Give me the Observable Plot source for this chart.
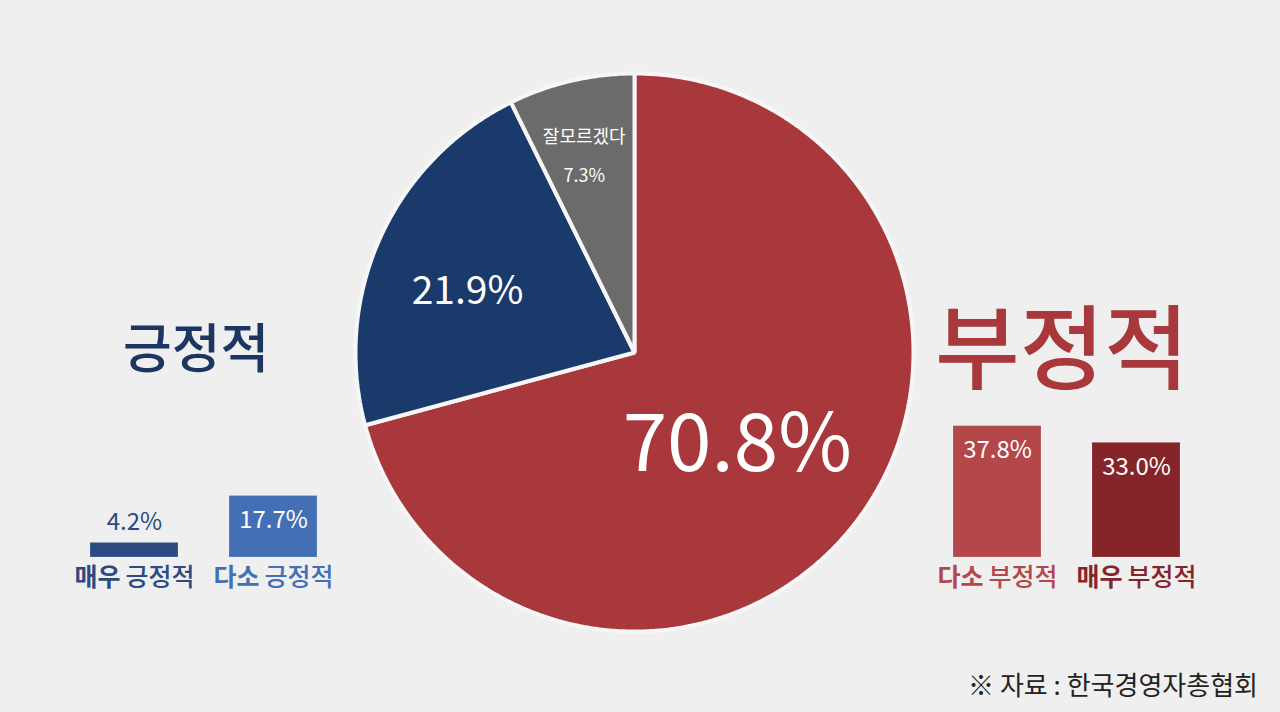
<!DOCTYPE html>
<html><head><meta charset="utf-8">
<script src="https://cdn.jsdelivr.net/npm/d3@7"></script>
<script src="https://cdn.jsdelivr.net/npm/@observablehq/plot@0.6"></script>
<style>
html,body{margin:0;padding:0;background:#efefef;}
body{width:1280px;height:712px;position:relative;overflow:hidden;font-family:"Noto Sans CJK KR","Noto Sans",sans-serif;}
.abs{position:absolute;}
.abs svg{overflow:visible;}
#tpos{left:123px;top:319px;font-size:53px;font-weight:500;color:#1d3561;line-height:1;}
#tneg{left:935px;top:296px;font-size:92px;font-weight:500;color:#a8383c;line-height:1;}
#src{right:22px;top:668px;font-size:26px;color:#222;line-height:1.2;}
</style></head><body>
<div id="pie" class="abs" style="left:344px;top:62px"></div>
<div id="pos" class="abs" style="left:64px;top:418px"></div>
<div id="neg" class="abs" style="left:927px;top:418px"></div>
<div id="tpos" class="abs">긍정적</div>
<div id="tneg" class="abs">부정적</div>
<div id="src" class="abs">※ 자료 : 한국경영자총협회</div>
<script>
// ---- data ----
const pieCategories = ["부정적", "긍정적", "잘모르겠다"];
const pieValues = [70.8, 21.9, 7.3];
const pieLabels = ["70.8%", "21.9%", "잘모르겠다\n7.3%"];
const positiveCategories = ["매우 긍정적", "다소 긍정적"];
const positiveValues = [4.2, 17.7];
const negativeCategories = ["다소 부정적", "매우 부정적"];
const negativeValues = [37.8, 33.0];

// ---- styles ----
const pieColors = ["#a8383c", "#1a3a6b", "#6b6b6b"];
const pieLabelStyle = [
  {r: 0.5, size: 80, weight: 400, dx: -8, dy: 8},
  {r: 0.637, size: 39, weight: 400, dx: -5, dy: 12},
  {r: 0.745, size: 18, weight: 400, dx: -3, dy: 0, lineHeight: 2.17}
];
const posColors = ["#2c4a80", "#4370b4"];
const negColors = ["#b3474a", "#862529"];

// ---- pie ----
const total = d3.sum(pieValues);
let cum = 0;
const slices = pieCategories.map((c, i) => {
  const a0 = cum / total * 2 * Math.PI;
  cum += pieValues[i];
  const a1 = cum / total * 2 * Math.PI;
  const n = Math.max(2, Math.ceil((a1 - a0) / (Math.PI / 360)));
  const pts = [{x: 0, y: 0}];
  for (let k = 0; k <= n; k++) {
    const a = a0 + (a1 - a0) * k / n;
    pts.push({x: Math.sin(a), y: Math.cos(a)});
  }
  const am = (a0 + a1) / 2;
  const st = pieLabelStyle[i];
  return {cat: c, pts, label: {x: Math.sin(am) * st.r, y: Math.cos(am) * st.r, text: pieLabels[i]}, color: pieColors[i], st};
});
const D = 290 / 279;
const pie = Plot.plot({
  width: 580, height: 580, margin: 0,
  x: {domain: [-D, D], axis: null},
  y: {domain: [-D, D], axis: null},
  style: {background: "transparent", fontFamily: "'Noto Sans CJK KR', sans-serif"},
  marks: [
    ...slices.map(s => Plot.line(s.pts, {x: "x", y: "y", fill: s.color, stroke: "#f6f6f6", strokeWidth: 4, strokeLinejoin: "miter", curve: "linear-closed"})),
    ...slices.map(s => Plot.text([s.label], {x: "x", y: "y", text: "text", fill: "white", fontSize: s.st.size, fontWeight: s.st.weight, dx: s.st.dx, dy: s.st.dy, lineHeight: s.st.lineHeight || 1}))
  ]
});
document.getElementById("pie").appendChild(pie);

// ---- bars ----
function barChart(cats, vals, colors, outsideColor) {
  const data = cats.map((c, i) => ({cat: c, value: vals[i], w1: c.split(" ")[0], w2: c.split(" ")[1], color: colors[i]}));
  return Plot.plot({
    width: 278, height: 192, marginLeft: 0, marginRight: 0, marginTop: 0, marginBottom: 53,
    x: {domain: cats, paddingInner: 0.37, paddingOuter: 0.185, axis: null},
    y: {domain: [0, 40], axis: null},
    color: {domain: cats, range: colors},
    style: {background: "transparent", fontFamily: "'Noto Sans CJK KR', sans-serif", overflow: "visible"},
    marks: [
      Plot.barY(data, {x: "cat", y: "value", fill: "cat", stroke: "white", strokeOpacity: 0.18, strokeWidth: 1}),
      Plot.text(data.filter(d => d.value >= 10), {x: "cat", y: "value", text: d => d.value.toFixed(1) + "%", fill: "white", fontSize: 24, dy: 24.5}),
      Plot.text(data.filter(d => d.value < 10), {x: "cat", y: "value", text: d => d.value.toFixed(1) + "%", fill: outsideColor, fontSize: 24, dy: -20.5}),
      Plot.text(data, {x: "cat", frameAnchor: "bottom", text: "w1", fill: "cat", fontSize: 25, fontWeight: 700, textAnchor: "end", dx: -14, dy: 28}),
      Plot.text(data, {x: "cat", frameAnchor: "bottom", text: "w2", fill: "cat", fontSize: 25, fontWeight: 500, textAnchor: "start", dx: -9, dy: 28})
    ]
  });
}
document.getElementById("pos").appendChild(barChart(positiveCategories, positiveValues, posColors, "#2c4a80"));
document.getElementById("neg").appendChild(barChart(negativeCategories, negativeValues, negColors, "#862529"));
</script>
</body></html>
